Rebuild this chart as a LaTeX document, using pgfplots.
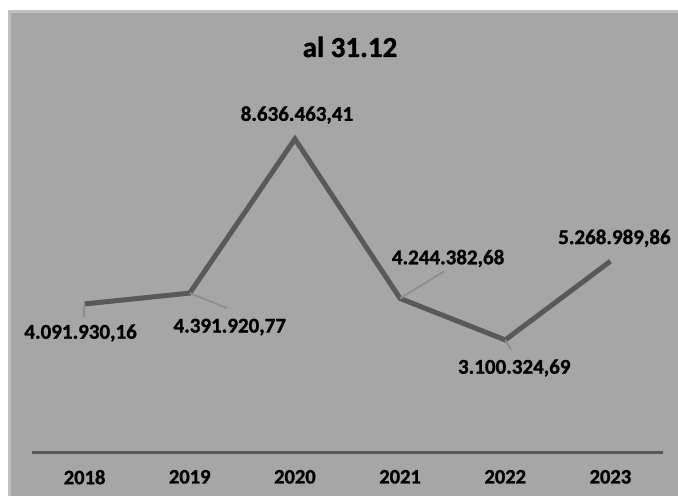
\documentclass[border=0pt]{standalone}
\usepackage{pgfplots}
\pgfplotsset{compat=1.18}
\usepackage{fontspec}
\setmainfont{Carlito}[BoldFeatures={FakeBold=1.2}]
\definecolor{bgc}{HTML}{A6A6A6}
\definecolor{bdc}{HTML}{BFBFBF}
\definecolor{linec}{HTML}{595959}
\definecolor{leadc}{HTML}{8E8E8E}
\begin{document}
\begin{tikzpicture}
\path[use as bounding box] (0,0) rectangle (678pt,496pt);
\fill[white] (0,0) rectangle (678pt,496pt);
\fill[bdc] (8pt,0) rectangle (678pt,486pt);
\fill[bgc] (11pt,0) rectangle (678pt,483pt);
\node[font=\fontsize{29}{34}\selectfont\bfseries, anchor=base] at (350pt,439pt) {al 31.12};
\begin{axis}[
  at={(32pt,43.5pt)}, anchor=south west,
  scale only axis, width=631pt, height=363pt,
  xmin=-0.5, xmax=5.5, ymin=0, ymax=10000000,
  axis y line=none, axis x line*=bottom,
  x axis line style={draw=linec, line width=2.5pt},
  xtick={0,1,2,3,4,5},
  xticklabels={2018,2019,2020,2021,2022,2023},
  major tick length=0pt,
  xticklabel style={font=\fontsize{20.5}{24}\selectfont\bfseries, yshift=-14pt},
  clip=false,
]
\addplot[linec, line width=5pt, mark=none] coordinates {
  (0,4091930.16) (1,4391920.77) (2,8636463.41) (3,4244382.68) (4,3100324.69) (5,5268989.86)
};
\begin{scope}[font=\fontsize{21}{25}\selectfont\bfseries]
\draw[leadc, line width=1.8pt] (axis cs:0,4091930.16) -- ++(-1pt,-14pt);
\node at ([shift={(-4pt,-29pt)}]axis cs:0,4091930.16) {4.091.930,16};
\draw[leadc, line width=1.8pt] (axis cs:1,4391920.77) -- ++(37pt,-15pt);
\node at ([shift={(40pt,-34pt)}]axis cs:1,4391920.77) {4.391.920,77};
\node at ([shift={(2pt,24pt)}]axis cs:2,8636463.41) {8.636.463,41};
\draw[leadc, line width=1.8pt] (axis cs:3,4244382.68) -- ++(44pt,27pt);
\node at ([shift={(48pt,40pt)}]axis cs:3,4244382.68) {4.244.382,68};
\draw[leadc, line width=1.8pt] (axis cs:4,3100324.69) -- ++(6pt,-10pt);
\node at ([shift={(9pt,-28pt)}]axis cs:4,3100324.69) {3.100.324,69};
\node at ([shift={(4pt,23pt)}]axis cs:5,5268989.86) {5.268.989,86};
\end{scope}
\end{axis}
\end{tikzpicture}
\end{document}
